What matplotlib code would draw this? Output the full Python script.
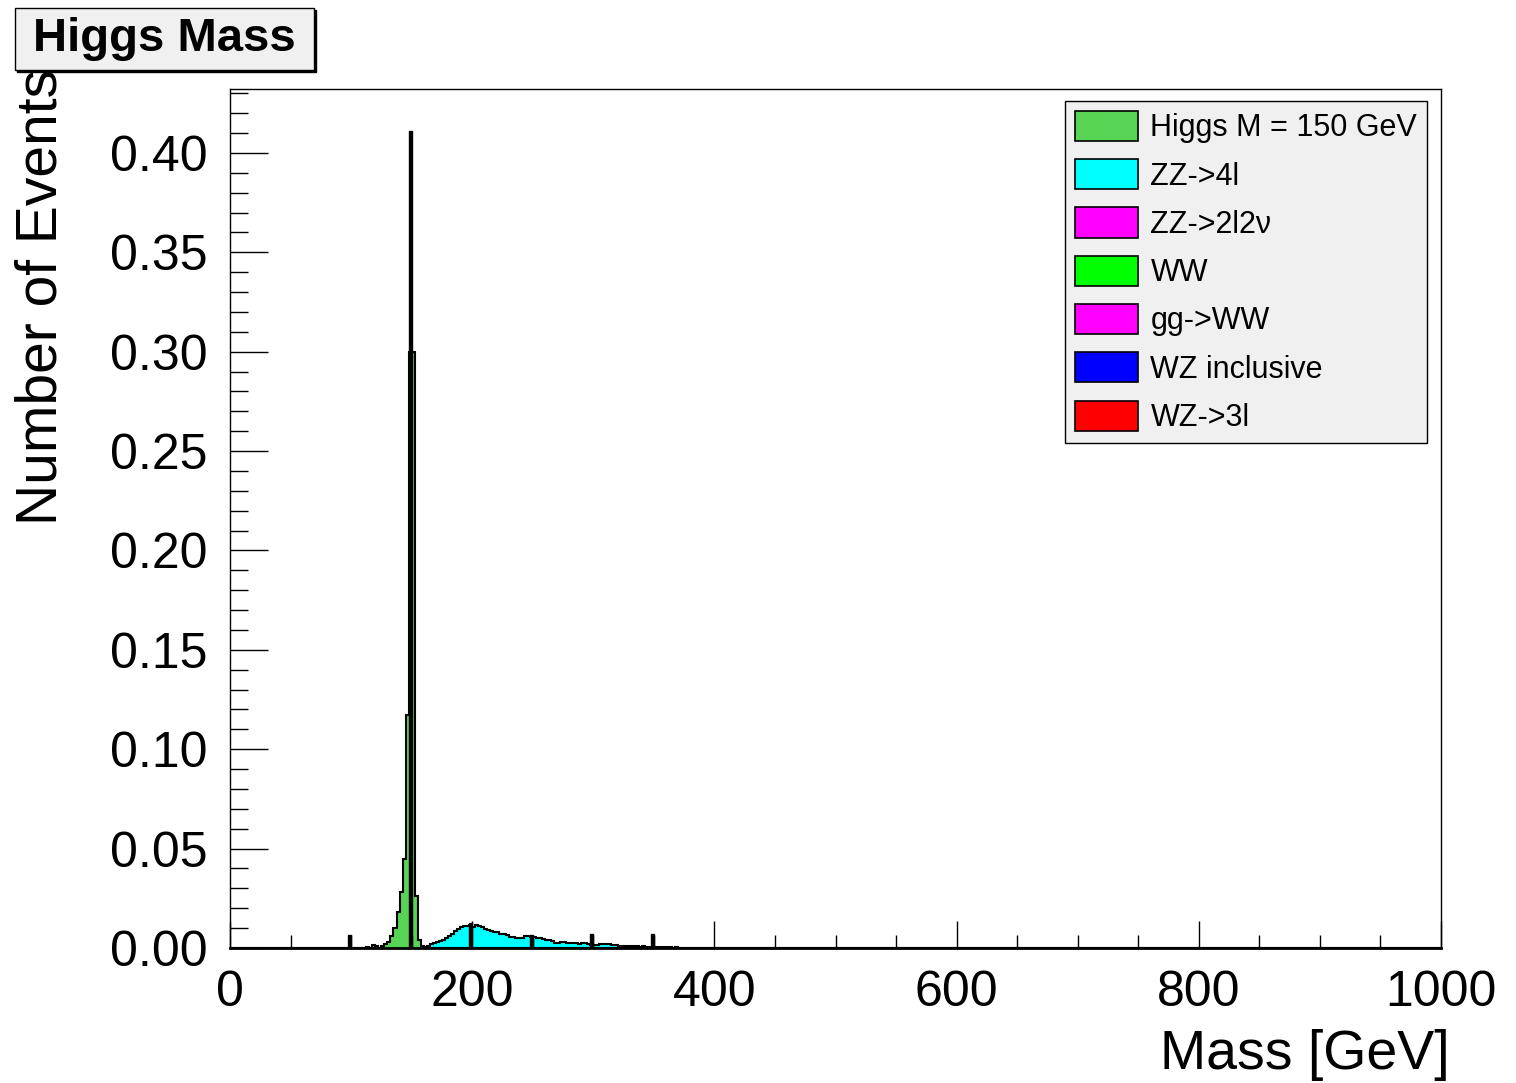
import numpy as np
import matplotlib
matplotlib.use("Agg")
import matplotlib.pyplot as plt
from matplotlib.patches import Patch, Rectangle

plt.rcParams['font.family'] = ['Liberation Sans', 'DejaVu Sans']

# binning of the mass histograms (GeV)
bin_width = 2.5
mass_min, mass_max = 0, 1000

# Higgs M = 150 GeV signal, first bin starts at 112.5 GeV
higgs_start = 112.5
higgs_vals = [0.0005, 0.0, 0.0015, 0.001, 0.0, 0.001, 0.002, 0.003, 0.006, 0.010,
              0.018, 0.028, 0.045, 0.117, 0.30, 0.30, 0.026, 0.004, 0.001]

# ZZ->4l background, first bin starts at 152.5 GeV
zz4l_start = 152.5
zz4l_vals = [0.001, 0.001, 0.0, 0.0005, 0.001, 0.002, 0.0025, 0.003, 0.0035, 0.004,
             0.005, 0.006, 0.007, 0.0085, 0.0095, 0.0105, 0.011, 0.0112, 0.0118, 0.0105,
             0.0115, 0.011, 0.0108, 0.0098, 0.009, 0.0085, 0.0078, 0.008, 0.0072, 0.0068,
             0.0065, 0.0057, 0.0055, 0.0052, 0.0048, 0.005, 0.0062, 0.006, 0.0055, 0.0056,
             0.0052, 0.0048, 0.0046, 0.0042, 0.0038, 0.0035, 0.0027, 0.0025, 0.0028, 0.0032,
             0.0027, 0.0025, 0.0024, 0.0025, 0.0021, 0.0023, 0.0025, 0.0018, 0.0015, 0.0016,
             0.0014, 0.0019, 0.002, 0.0018, 0.0019, 0.0015, 0.0013, 0.0012, 0.001, 0.001,
             0.0011, 0.0009, 0.0008, 0.001, 0.0007, 0.0008, 0.0007, 0.0006, 0.0007, 0.0004,
             0.0006, 0.0003, 0.0005, 0.0004, 0.0003, 0.0, 0.0003]

# single-bin spikes drawn in black
spike_pos = [97.5, 147.5, 197.5, 247.5, 297.5, 347.5]
spike_vals = [0.0065, 0.411, 0.0125, 0.0065, 0.007, 0.007]

legend_labels = ["Higgs M = 150 GeV", "ZZ->4l", "ZZ->2l2\u03bd", "WW",
                 "gg->WW", "WZ inclusive", "WZ->3l"]
legend_colors = ["#58d454", "#00ffff", "#ff00ff", "#00ff00",
                 "#ff00ff", "#0000ff", "#ff0000"]

edges = np.arange(mass_min, mass_max + bin_width / 2, bin_width)
nbins = len(edges) - 1


def fill_hist(start, vals):
    h = np.zeros(nbins)
    i0 = int(round(start / bin_width))
    h[i0:i0 + len(vals)] = vals
    return h


higgs = fill_hist(higgs_start, higgs_vals)
zz4l = fill_hist(zz4l_start, zz4l_vals)
spikes = np.zeros(nbins)
for p, v in zip(spike_pos, spike_vals):
    spikes[int(round(p / bin_width))] = v

fig = plt.figure(figsize=(15.16, 10.83), dpi=100)
W, H = 1516, 1083
ax = fig.add_axes([230 / W, 1 - 948 / H, (1441 - 230) / W, (948 - 89) / H])

ax.stairs(zz4l, edges, fill=True, facecolor=legend_colors[1], edgecolor="black", linewidth=1.5)
ax.stairs(higgs, edges, fill=True, facecolor=legend_colors[0], edgecolor="black", linewidth=1.5)
ax.stairs(spikes, edges, fill=True, facecolor="black", edgecolor="black", linewidth=1.0)

ax.set_xlim(0, 1000)
ax.set_ylim(0, 0.4322)

ax.set_xticks(np.arange(0, 1001, 200))
ax.set_xticks(np.arange(0, 1001, 50), minor=True)
ax.set_yticks(np.arange(0, 0.41, 0.05))
ax.set_yticks(np.arange(0, 0.431, 0.01), minor=True)
ax.set_yticklabels(["%.2f" % v for v in np.arange(0, 0.41, 0.05)])

ax.tick_params(axis="x", which="major", direction="in", length=19.5, width=1, labelsize=36, pad=16)
ax.tick_params(axis="x", which="minor", direction="in", length=9.5, width=1)
ax.tick_params(axis="y", which="major", direction="in", length=27, width=1, labelsize=36, pad=16)
ax.tick_params(axis="y", which="minor", direction="in", length=13, width=1)

for s in ["left", "top", "right"]:
    ax.spines[s].set_linewidth(1)
ax.spines["bottom"].set_linewidth(2)

fig.text(1450 / W, 1 - 1055 / H, "Mass [GeV]", ha="right", va="center", fontsize=40)
fig.text(42 / W, 1 - 525 / H, "Number of Events", rotation=90, ha="center", va="bottom", fontsize=41)

# title box with shadow
fig.patches.append(Rectangle((17 / W, 1 - 72 / H), (314 - 15) / W, (70 - 8) / H,
                             transform=fig.transFigure, facecolor="black", edgecolor="black"))
fig.patches.append(Rectangle((15 / W, 1 - 70 / H), (314 - 15) / W, (70 - 8) / H,
                             transform=fig.transFigure, facecolor="#f0f0f0", edgecolor="black",
                             linewidth=1))
fig.text(164.5 / W, 1 - 39 / H, "Higgs Mass", ha="center", va="center",
         fontsize=34, fontweight="bold")

handles = [Patch(facecolor=c, edgecolor="black", linewidth=1.2) for c in legend_colors]
leg = ax.legend(handles, legend_labels, loc="upper right",
                bbox_to_anchor=(1427 / W, 1 - 101 / H), bbox_transform=fig.transFigure,
                borderaxespad=0, fontsize=22, handlelength=2.06, handleheight=1.14,
                labelspacing=0.52, handletextpad=0.42, borderpad=0.32,
                fancybox=False, framealpha=1, facecolor="#f0f0f0", edgecolor="black")
leg.get_frame().set_linewidth(1)

fig.savefig("out.png", dpi=100)
